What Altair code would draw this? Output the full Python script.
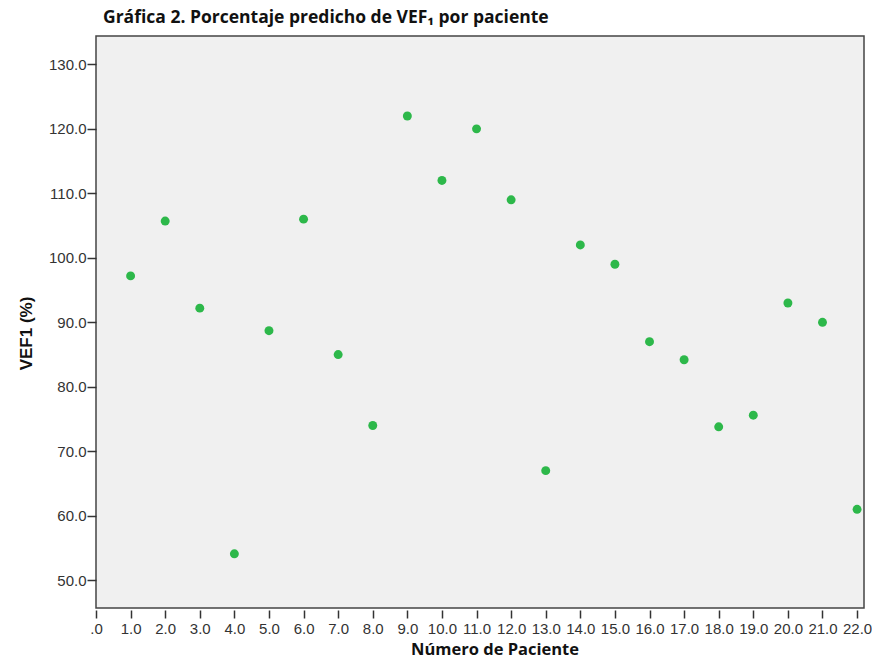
import altair as alt
import pandas as pd

# Patient number and predicted FEV1 percentage
paciente = list(range(1, 23))
vef1 = [97.2, 105.7, 92.2, 54.1, 88.7, 106.0, 85.0, 74.0, 122.0, 112.0, 120.0,
        109.0, 67.0, 102.0, 99.0, 87.0, 84.2, 73.8, 75.6, 93.0, 90.0, 61.0]
x_ticks = list(range(0, 23))
y_ticks = list(range(50, 131, 10))

df = pd.DataFrame({"paciente": paciente, "vef1": vef1})

label_expr = "datum.value == 0 ? '.0' : format(datum.value, '.1f')"

points = alt.Chart(df).mark_circle(size=80, color="#2db84a", opacity=1).encode(
    x=alt.X(
        "paciente:Q",
        scale=alt.Scale(domain=[0, 22.2], nice=False, zero=False),
        axis=alt.Axis(
            values=x_ticks,
            labelExpr=label_expr,
            title="Número de Paciente",
            titleFont="Open Sans",
            titleFontWeight="bold",
            titleFontSize=16.5,
            titleColor="#111",
            titleX=398.5,
            titleY=44,
            titleBaseline="alphabetic",
            labelFont="Liberation Sans",
            labelFontSize=15,
            labelColor="#333",
            labelOverlap=False,
            labelFlush=False,
            labelPadding=3,
            domain=False,
            tickSize=8,
            tickColor="#333",
            tickWidth=1.5,
            offset=2,
            grid=False,
        ),
    ),
    y=alt.Y(
        "vef1:Q",
        scale=alt.Scale(domain=[45.7, 134.4], nice=False, zero=False),
        axis=alt.Axis(
            values=y_ticks,
            labelExpr=label_expr,
            title="VEF1 (%)",
            titleFont="Liberation Sans",
            titleFontWeight="bold",
            titleFontSize=17,
            titleColor="#111",
            titleX=-70,
            titleY=297,
            titleBaseline="middle",
            labelFont="Liberation Sans",
            labelFontSize=15,
            labelColor="#333",
            labelOverlap=False,
            labelFlush=False,
            labelPadding=1,
            domain=False,
            tickSize=9,
            tickColor="#333",
            tickWidth=1.5,
            grid=False,
        ),
    ),
).properties(
    width=768,
    height=572,
    autosize=alt.AutoSizeParams(type="none"),
    padding={"left": 96, "top": 36, "right": 8, "bottom": 51},
    background="white",
    title=alt.TitleParams(
        "Gráfica 2. Porcentaje predicho de VEF₁ por paciente",
        anchor="start",
        frame="group",
        font="Open Sans",
        fontWeight="bold",
        fontSize=17.5,
        color="#111",
        dx=7,
        offset=-4,
        baseline="alphabetic",
    ),
).configure_view(
    fill="#f0f0f0",
    stroke="#444",
    strokeWidth=1.5,
)

chart = points
chart.save("out.html", embed_options={"renderer": "svg", "actions": False})
